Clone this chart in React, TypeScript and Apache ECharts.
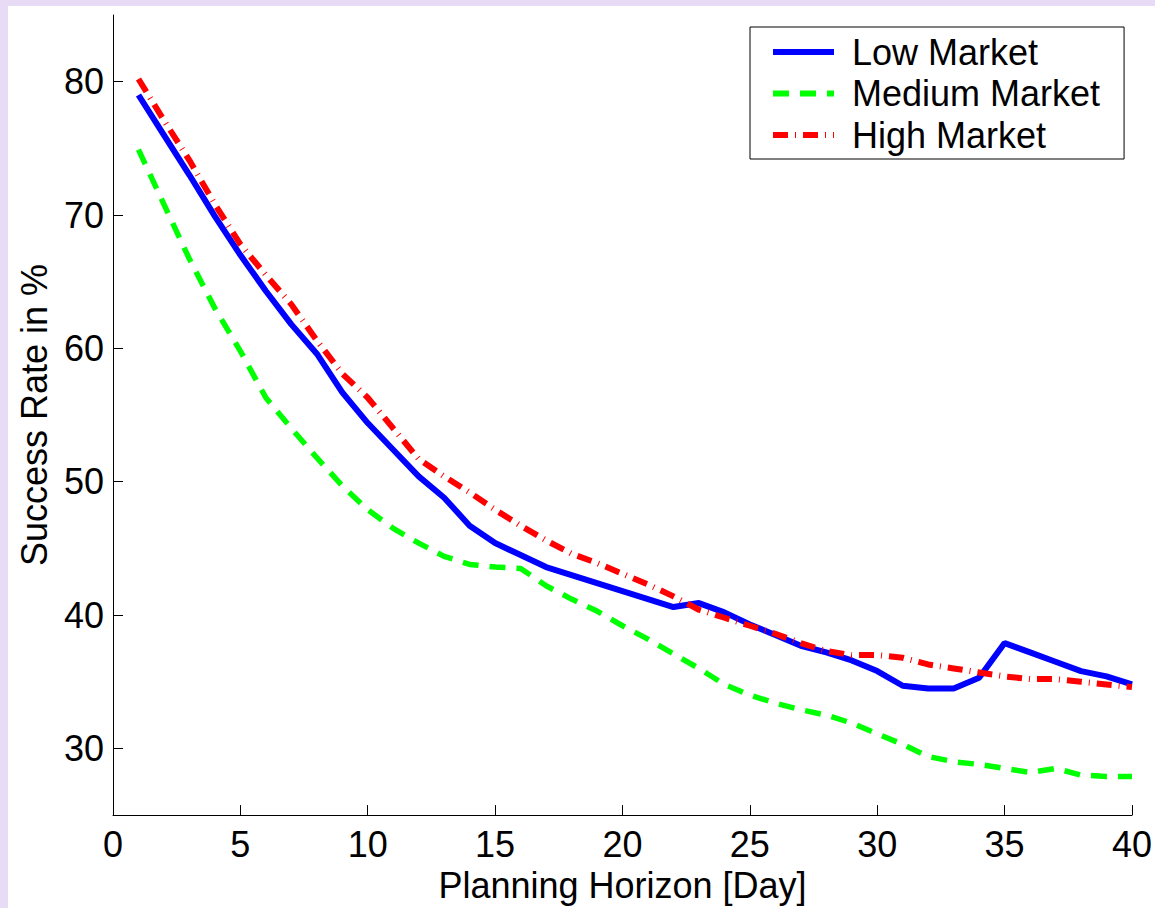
import * as echarts from 'echarts';
import { useEffect, useRef } from 'react';

const days = [
  1, 2, 3, 4, 5, 6, 7, 8, 9, 10,
  11, 12, 13, 14, 15, 16, 17, 18, 19, 20,
  21, 22, 23, 24, 25, 26, 27, 28, 29, 30,
  31, 32, 33, 34, 35, 36, 37, 38, 39, 40,
];

const lowMarket = [
  79.0, 76.0, 73.0, 69.9, 67.0, 64.3, 61.8, 59.6, 56.7, 54.4,
  52.4, 50.4, 48.8, 46.7, 45.4, 44.5, 43.6, 43.0, 42.4, 41.8,
  41.2, 40.6, 40.9, 40.2, 39.3, 38.5, 37.7, 37.2, 36.6, 35.8,
  34.7, 34.5, 34.5, 35.3, 37.9, 37.2, 36.5, 35.8, 35.4, 34.8,
];

const mediumMarket = [
  74.9, 70.8, 66.7, 63.0, 59.8, 56.3, 54.0, 51.8, 49.7, 47.9,
  46.5, 45.4, 44.4, 43.8, 43.6, 43.5, 42.2, 41.2, 40.3, 39.2,
  38.2, 37.1, 36.0, 34.8, 34.0, 33.4, 32.9, 32.5, 31.9, 31.1,
  30.3, 29.4, 29.0, 28.8, 28.5, 28.2, 28.5, 28.0, 27.9, 27.9,
];

const highMarket = [
  80.2, 77.1, 74.1, 70.8, 67.8, 65.5, 63.3, 60.6, 58.1, 56.3,
  54.0, 51.7, 50.4, 49.2, 47.9, 46.7, 45.6, 44.6, 43.9, 43.1,
  42.3, 41.4, 40.4, 39.8, 39.2, 38.6, 37.9, 37.3, 37.0, 37.0,
  36.8, 36.3, 36.0, 35.7, 35.4, 35.2, 35.2, 35.0, 34.8, 34.6,
];

const yTicks = [30, 40, 50, 60, 70, 80];

const font = 'Liberation Sans, Arial, Helvetica, sans-serif';

const toPairs = (vals: number[]) => days.map((d, i) => [d, vals[i]]);

export default function App() {
  const chartRef = useRef<HTMLDivElement>(null);

  useEffect(() => {
    if (!chartRef.current) return;
    const chart = echarts.init(chartRef.current, null, { renderer: 'svg' });

    const axisText = { color: '#000', fontSize: 36, fontFamily: font };

    chart.setOption({
      animation: false,
      backgroundColor: '#fff',
      grid: { left: 105, right: 21, top: 9, bottom: 87 },
      legend: {
        left: 742,
        top: 21,
        orient: 'vertical',
        padding: [7, 24, 6, 20],
        itemWidth: 61,
        itemHeight: 20,
        itemGap: 5.5,
        borderColor: '#000',
        borderWidth: 1,
        backgroundColor: '#fff',
        lineStyle: { width: 6 },
        itemStyle: { opacity: 0, borderWidth: 0 },
        textStyle: {
          color: '#000',
          fontSize: 36,
          fontFamily: font,
          lineHeight: 36,
          padding: [0, 0, 0, 13],
        },
        data: ['Low Market', 'Medium Market', 'High Market'],
      },
      xAxis: {
        type: 'value',
        min: 0,
        max: 40,
        interval: 5,
        name: 'Planning Horizon [Day]',
        nameLocation: 'middle',
        nameGap: 40,
        nameTextStyle: axisText,
        axisLine: { lineStyle: { color: '#000', width: 1 } },
        axisTick: { inside: true, length: 10, lineStyle: { color: '#000' } },
        axisLabel: { ...axisText, margin: 11 },
        splitLine: { show: false },
      },
      yAxis: {
        type: 'value',
        min: 25,
        max: 85,
        name: 'Success Rate in %',
        nameLocation: 'middle',
        nameGap: 61,
        nameTextStyle: axisText,
        axisLine: { show: true, lineStyle: { color: '#000', width: 1 } },
        axisTick: {
          show: true,
          inside: true,
          length: 10,
          customValues: yTicks,
          lineStyle: { color: '#000' },
        },
        axisLabel: { ...axisText, margin: 9, customValues: yTicks },
        splitLine: { show: false },
      },
      series: [
        {
          name: 'Low Market',
          type: 'line',
          symbol: 'none',
          data: toPairs(lowMarket),
          lineStyle: { color: '#0000ff', width: 6, type: 'solid' },
          itemStyle: { color: '#0000ff' },
          z: 3,
        },
        {
          name: 'Medium Market',
          type: 'line',
          symbol: 'none',
          data: toPairs(mediumMarket),
          lineStyle: { color: '#00ff00', width: 5.5, type: [16, 11], cap: 'butt' },
          itemStyle: { color: '#00ff00' },
          z: 2,
        },
        {
          name: 'High Market',
          type: 'line',
          symbol: 'none',
          data: toPairs(highMarket),
          lineStyle: { color: '#ff0000', width: 6, type: [15, 7, 1, 7], cap: 'butt' },
          itemStyle: { color: '#ff0000' },
          z: 4,
        },
      ],
    });

    return () => {
      chart.dispose();
    };
  }, []);

  return (
    <div
      style={{
        position: 'fixed',
        left: 0,
        top: 0,
        width: 1155,
        height: 908,
        background: '#e8dbf5',
      }}
    >
      <div
        ref={chartRef}
        style={{
          position: 'absolute',
          left: 8,
          top: 6,
          width: 1147,
          height: 902,
          background: '#fff',
        }}
      />
    </div>
  );
}
